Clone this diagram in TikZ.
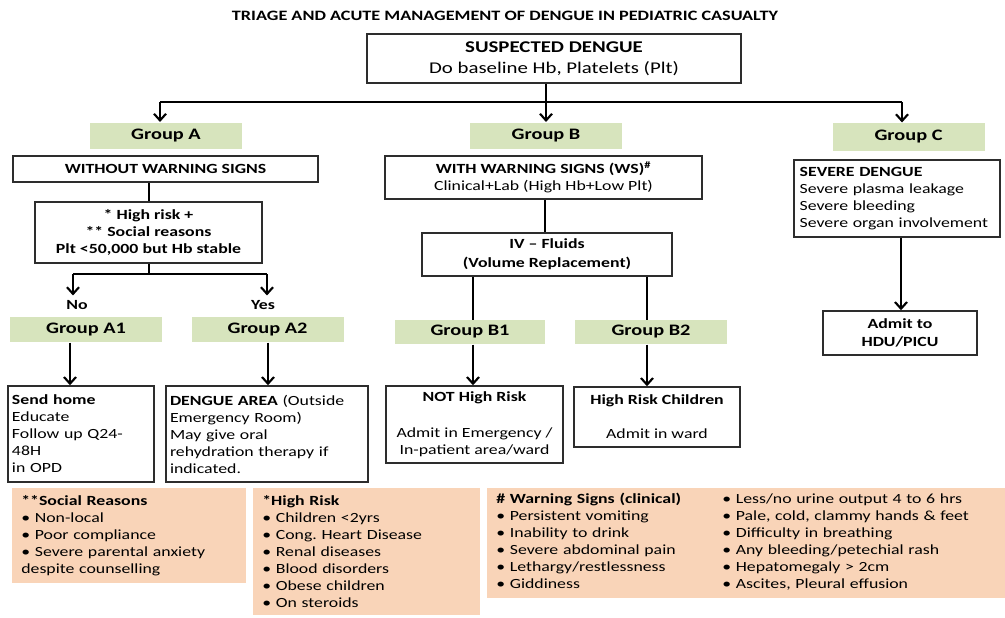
\documentclass[tikz,border=0pt]{standalone}
\usepackage{fontspec}
\setmainfont{Carlito}[FakeStretch=1.27]
\usetikzlibrary{arrows.meta}

\definecolor{grpgreen}{RGB}{215,228,189}
\definecolor{notesalmon}{RGB}{249,212,184}
\definecolor{boxline}{RGB}{45,45,45}

\tikzset{every picture/.style={line width=0.75pt}}
\tikzset{
  bodyfont/.style={font=\fontsize{10.5}{12.75}\selectfont},
  flowbox/.style={draw=boxline, line width=1.1pt, fill=white, inner sep=0pt, align=center, bodyfont},
  leftbox/.style={flowbox, align=left, inner xsep=3pt, text width=#1},
  grouplabel/.style={fill=grpgreen, inner sep=0pt, minimum width=114pt, minimum height=19.5pt, font=\fontsize{12}{14}\selectfont\bfseries},
  notebox/.style={fill=notesalmon, inner xsep=7pt, inner ysep=0pt, align=left, bodyfont, text width=#1},
  link/.style={line width=1.9pt, color=black},
  linkarrow/.style={link, -{Straight Barb[length=5pt,width=9pt,line width=1.6pt]}},
}

\begin{document}
\begin{tikzpicture}[x=0.75pt,y=0.75pt,yscale=-1,xscale=1]
\path (0,0) rectangle (1005,617); %set diagram to the size of the reference

% Title
\node [font=\fontsize{10.75}{13}\selectfont\bfseries] (title) at (505,16) {TRIAGE AND ACUTE MANAGEMENT OF DENGUE IN PEDIATRIC CASUALTY};
% Suspected dengue
\node [flowbox, minimum width=280.5pt, minimum height=36.75pt, font=\fontsize{12.3}{15.5}\selectfont] (susp) at (554,58.5) {\textbf{SUSPECTED DENGUE}\\Do baseline Hb, Platelets (Plt)};

% Groups
\node [grouplabel] (grpA) at (166,135.5) {Group A};
\node [grouplabel] (grpB) at (546,135.5) {Group B};
\node [grouplabel, minimum height=21pt] (grpC) at (908.5,137) {Group C};

%Group A branch
\node [flowbox, minimum width=228.75pt, minimum height=19.5pt, font=\fontsize{10.5}{12.75}\selectfont\bfseries] (nows) at (165.5,169) {WITHOUT WARNING SIGNS};
\node [flowbox, minimum width=170.25pt, minimum height=45.75pt, font=\fontsize{10.5}{12.75}\selectfont\bfseries] (risk) at (148.5,232.5) {* High risk +\\** Social reasons\\Plt <50,000 but Hb stable};
\node [font=\fontsize{10.5}{12.75}\selectfont\bfseries] (no) at (77,305) {No};
\node [font=\fontsize{10.5}{12.75}\selectfont\bfseries] (yes) at (263,305) {Yes};
\node [grouplabel, minimum height=18.75pt] (grpA1) at (86,329.5) {Group A1};
\node [grouplabel, minimum height=18.75pt] (grpA2) at (267.5,329.5) {Group A2};
\node [leftbox=103.5pt, minimum height=72pt] (home) at (81,434) {\textbf{Send home}\\Educate\\Follow up Q24-\\48H\\in OPD};
\node [leftbox=145.5pt, minimum height=72pt] (dengue) at (267,434) {\textbf{DENGUE AREA} (Outside\\Emergency Room)\\May give oral\\rehydration therapy if\\indicated.};

%Group B branch
\node [flowbox, minimum width=237.75pt, minimum height=32.25pt] (ws) at (543.5,177.5) {\textbf{WITH WARNING SIGNS (WS)\textsuperscript{\#}}\\Clinical+Lab (High Hb+Low Plt)};
\node [flowbox, minimum width=187.5pt, minimum height=32.25pt, font=\fontsize{10.5}{14}\selectfont\bfseries] (iv) at (547,254.5) {IV -- Fluids\\(Volume Replacement)};
\node [grouplabel, minimum width=112.5pt, minimum height=18pt] (grpB1) at (470,332) {Group B1};
\node [grouplabel, minimum height=18pt] (grpB2) at (651,332) {Group B2};
\node [flowbox, minimum width=132.75pt, minimum height=57.75pt] (nothigh) at (474.5,424.5) {\textbf{NOT High Risk}\\[14pt]Admit in Emergency /\\In-patient area/ward};
\node [flowbox, minimum width=124.5pt, minimum height=45pt] (highkids) at (657,417) {\textbf{High Risk Children}\\[12.75pt]Admit in ward};

%Group C branch
\node [leftbox=146pt, inner xsep=4.25pt, minimum height=57.75pt] (severe) at (897,198.5) {\textbf{SEVERE DENGUE}\\Severe plasma leakage\\Severe bleeding\\Severe organ involvement};
\node [flowbox, minimum width=115.5pt, minimum height=33pt, font=\fontsize{10.5}{13}\selectfont\bfseries] (admit) at (900,333) {Admit to\\HDU/PICU};

% Notes
\node [notebox=161.5pt, minimum height=71.25pt] (social) at (129,535.5) {\textbf{**Social Reasons}\\• Non-local\\• Poor compliance\\• Severe parental anxiety\\despite counselling};
\node [notebox=156.25pt, minimum height=95.25pt] (highrisk) at (366.5,551.5) {\textbf{*High Risk}\\• Children <2yrs\\• Cong.\ Heart Disease\\• Renal diseases\\• Blood disorders\\• Obese children\\• On steroids};
\node [notebox=374.5pt, minimum height=82.5pt] (warn) at (746,543) {\begin{tabular}{@{}p{169.5pt}@{}l@{}}
\textbf{\# Warning Signs (clinical)} & • Less/no urine output 4 to 6 hrs\\
• Persistent vomiting & • Pale, cold, clammy hands \& feet\\
• Inability to drink & • Difficulty in breathing\\
• Severe abdominal pain & • Any bleeding/petechial rash\\
• Lethargy/restlessness & • Hepatomegaly > 2cm\\
• Giddiness & • Ascites, Pleural effusion
\end{tabular}};

% Connector columns
\coordinate (split) at (546,102);
\coordinate (tA) at (160,102);
\coordinate (tC) at (902,102);
\coordinate (colA) at (149,0);
\coordinate (fork) at (149,274);
\coordinate (forkL) at (73,274);
\coordinate (forkR) at (267,274);
\coordinate (colA1) at (70,0);
\coordinate (colA2) at (268,0);
\coordinate (colB) at (545,0);
\coordinate (colB1) at (473,0);
\coordinate (colB2) at (647,0);
\coordinate (colC) at (901,0);

%Straight Lines
\draw [link] (susp.south -| split) -- (split);
\draw [link] (tA) -- (tC);
\draw [linkarrow] (tA) -- (grpA.north -| tA);
\draw [linkarrow] (split) -- (grpB.north -| split);
\draw [linkarrow] (tC) -- (grpC.north -| tC);
\draw [link] (nows.south -| colA) -- (risk.north -| colA);
\draw [link] (risk.south -| fork) -- (fork);
\draw [link] (forkL) -- (forkR);
\draw [linkarrow] (forkL) -- (no.north -| forkL);
\draw [linkarrow] (forkR) -- (yes.north -| forkR);
\draw [linkarrow] (grpA1.south -| colA1) -- (home.north -| colA1);
\draw [linkarrow] (grpA2.south -| colA2) -- (dengue.north -| colA2);
\draw [link] (ws.south -| colB) -- (iv.north -| colB);
\draw [link] (iv.south -| colB1) -- (grpB1.north -| colB1);
\draw [link] (iv.south -| colB2) -- (grpB2.north -| colB2);
\draw [linkarrow] (grpB1.south -| colB1) -- (nothigh.north -| colB1);
\draw [linkarrow] (grpB2.south -| colB2) -- (highkids.north -| colB2);
\draw [linkarrow] (severe.south -| colC) -- (admit.north -| colC);

\end{tikzpicture}
\end{document}
